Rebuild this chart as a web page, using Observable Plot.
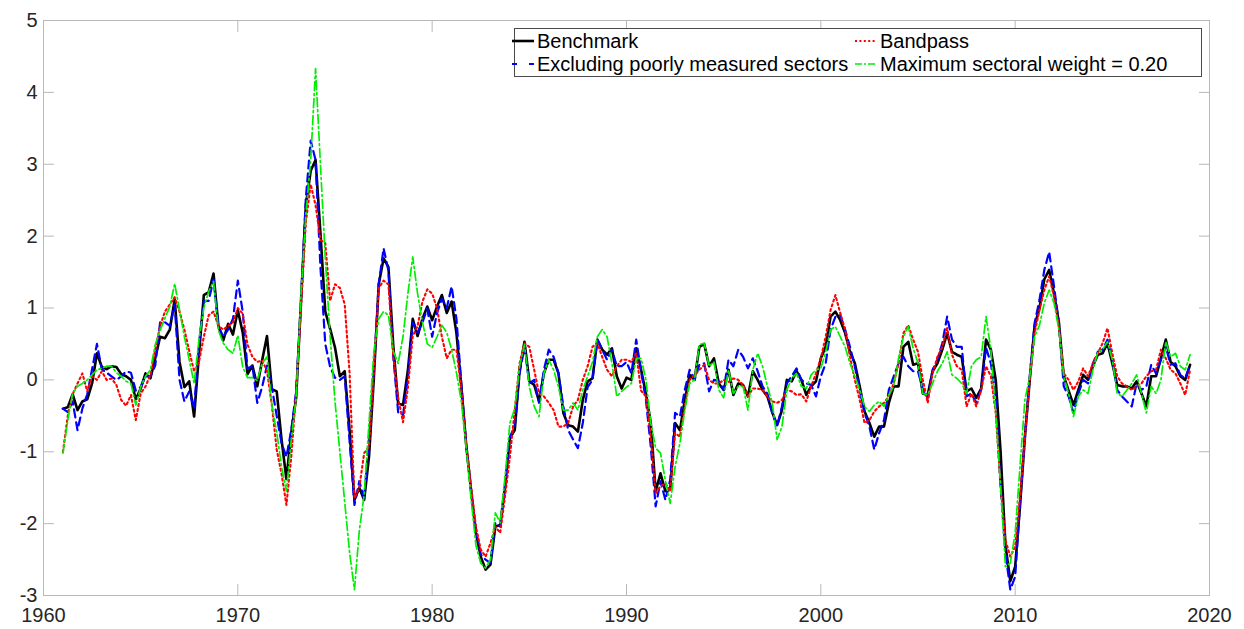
<!DOCTYPE html>
<html>
<head>
<meta charset="utf-8">
<script src="https://cdn.jsdelivr.net/npm/d3@7"></script>
<script src="https://cdn.jsdelivr.net/npm/@observablehq/plot@0.6"></script>
<style>
  html, body { margin: 0; padding: 0; background: #fff; }
  #wrap { position: relative; width: 1244px; height: 629px; font-family: "Liberation Sans", Arial, sans-serif; }
  #legend { position: absolute; left: 514px; top: 28px; width: 688px; height: 49px; border: 1px solid #4a4a4a; background: #fff; box-sizing: border-box; }
  .item { position: absolute; height: 22px; display: flex; align-items: center; font-size: 20px; color: #000; white-space: nowrap; }
  .item svg { margin-right: 2px; }
</style>
</head>
<body>
<div id="wrap"></div>
<script>
// Quarterly observations, first quarter of 1961 through first quarter of 2019
const startYear = 1961;
const benchmark = [
 -0.40,-0.38,-0.20,-0.42, -0.30,-0.27,-0.05,0.37, 0.18,0.15,0.19,0.18, 0.08,0.05,0.00,-0.27,
 -0.12,0.09,0.02,0.30, 0.60,0.58,0.70,1.12, 0.25,-0.10,-0.02,-0.51, 0.35,1.18,1.22,1.48,
 0.75,0.55,0.78,0.63, 0.97,0.66,0.08,0.20, -0.09,0.27,0.61,-0.13, -0.16,-0.83,-1.38,-0.73,
 -0.25,1.09,2.43,2.91, 3.06,2.05,0.95,0.71, 0.45,0.05,0.12,-0.70, -1.67,-1.50,-1.67,-1.07,
 0.03,1.33,1.69,1.57, 0.47,-0.33,-0.35,0.13, 0.85,0.61,0.85,1.02, 0.83,1.02,1.18,0.93,
 1.09,0.65,-0.09,-0.90, -1.53,-2.13,-2.46,-2.64, -2.57,-2.04,-2.02,-1.48, -0.81,-0.70,0.14,0.53,
 -0.02,-0.07,-0.30,0.09, 0.28,0.28,0.09,-0.46, -0.63,-0.65,-0.72,-0.28, -0.02,0.02,0.56,0.42,
 0.35,0.44,0.05,-0.12, 0.03,0.00,0.44,0.14, -0.19,-0.60,-1.55,-1.30, -1.55,-1.53,-0.60,-0.70,
 -0.28,0.07,0.00,0.46, 0.50,0.19,0.30,-0.05, -0.14,0.14,-0.21,-0.05, -0.07,-0.23,0.12,0.00,
 -0.14,-0.23,-0.45,-0.63, -0.42,0.00,-0.02,0.12, 0.00,-0.21,-0.09,-0.02, 0.30,0.46,0.88,0.95,
 0.83,0.65,0.39,0.23, -0.09,-0.44,-0.60,-0.79, -0.65,-0.65,-0.32,-0.09, -0.09,0.46,0.53,0.21,
 0.23,-0.19,-0.21,0.12, 0.23,0.42,0.65,0.39, 0.35,0.32,-0.16,-0.12, -0.25,-0.12,0.56,0.42,
 0.00,-1.00,-2.30,-2.80, -2.60,-1.75,-0.80,0.00, 0.75,1.00,1.40,1.53, 1.20,0.80,0.05,-0.15,
 -0.35,-0.14,0.07,0.00, 0.19,0.35,0.37,0.51, 0.23,-0.07,-0.09,-0.09, -0.12,-0.02,-0.19,-0.37,
 0.05,0.05,0.30,0.56, 0.25,0.19,0.05,0.00, 0.21
];
const excluding = [
 -0.40,-0.45,-0.30,-0.70, -0.40,-0.20,0.15,0.50, 0.15,0.10,0.05,0.00, 0.05,0.12,0.10,-0.15,
 -0.10,0.05,0.05,0.20, 0.80,0.80,0.75,1.05, 0.00,-0.30,-0.16,-0.40, 0.50,1.10,1.10,1.40,
 0.75,0.60,0.70,0.85, 1.38,0.95,0.15,0.20, -0.32,-0.10,0.20,-0.10, -0.50,-0.88,-1.07,-0.70,
 -0.16,1.09,2.53,3.33, 3.06,1.57,0.50,0.18, 0.03,0.00,0.05,-0.85, -1.74,-1.41,-1.65,-0.83,
 0.13,1.33,1.83,1.52, 0.32,-0.45,-0.49,0.03, 0.80,0.66,0.80,0.99, 0.60,0.93,1.13,1.00,
 1.30,0.85,-0.05,-0.90, -1.55,-2.09,-2.43,-2.50, -2.55,-1.99,-2.04,-1.48, -0.79,-0.65,0.09,0.46,
 -0.05,0.00,-0.32,0.14, 0.42,0.32,0.09,-0.37, -0.70,-0.83,-0.95,-0.60, -0.10,0.00,0.56,0.42,
 0.28,0.42,0.19,0.19, 0.25,0.09,0.56,0.12, -0.28,-0.93,-1.76,-1.41, -1.67,-1.39,-0.46,-0.51,
 -0.14,0.14,0.00,0.21, 0.23,-0.16,0.00,-0.02, -0.14,0.28,0.19,0.42, 0.32,0.16,0.30,0.12,
 -0.09,-0.19,-0.46,-0.65, -0.37,-0.05,0.05,0.16, 0.00,-0.05,-0.07,-0.23, 0.05,0.23,0.70,0.88,
 0.90,0.70,0.46,0.19, -0.14,-0.46,-0.65,-0.97, -0.74,-0.56,-0.14,0.05, 0.23,0.32,0.19,0.12,
 0.12,-0.14,-0.25,0.14, 0.28,0.51,0.88,0.56, 0.46,0.46,-0.23,-0.19, -0.32,-0.14,0.45,0.23,
 -0.23,-1.48,-2.41,-2.92, -2.74,-1.72,-0.80,0.05, 0.79,1.11,1.53,1.78, 1.30,0.79,-0.09,-0.23,
 -0.46,-0.19,0.00,-0.05, 0.23,0.39,0.42,0.56, 0.28,-0.14,-0.23,-0.30, -0.37,-0.05,-0.14,-0.09,
 0.21,0.09,0.28,0.46, 0.21,0.23,0.07,0.02, 0.21
];
const bandpass = [
 -1.00,-0.50,-0.20,-0.05, 0.09,-0.16,0.05,0.00, 0.12,0.00,0.02,-0.07, -0.28,-0.36,-0.21,-0.56,
 -0.19,-0.09,0.07,0.42, 0.75,0.95,1.05,1.15, 0.95,0.70,0.40,0.12, 0.25,0.60,0.90,0.95,
 0.75,0.70,0.75,0.80, 1.00,0.92,0.49,0.32, 0.25,0.27,0.13,-0.35, -0.97,-1.31,-1.74,-1.07,
 -0.16,0.99,2.19,2.72, 2.43,1.95,1.90,1.10, 1.33,1.28,1.05,0.10, -1.65,-1.50,-1.02,-0.93,
 0.13,1.28,1.38,1.33, 0.32,-0.25,-0.59,-0.11, 0.61,0.75,1.09,1.26, 1.20,1.00,0.60,0.30,
 0.42,0.42,-0.14,-0.88, -1.48,-2.04,-2.36,-2.46, -2.27,-2.04,-2.13,-1.62, -1.07,-0.42,0.23,0.51,
 0.46,0.14,-0.19,-0.23, -0.32,-0.42,-0.65,-0.65, -0.60,-0.37,-0.28,0.00, 0.19,0.46,0.51,0.32,
 0.14,0.05,0.19,0.28, 0.28,0.25,0.37,-0.15, -0.23,-0.80,-1.58,-1.48, -1.44,-1.55,-0.74,-0.79,
 -0.37,0.00,0.07,0.14, 0.21,0.00,-0.05,-0.05, 0.00,-0.03,0.02,0.00, -0.07,-0.23,-0.12,-0.12,
 -0.14,-0.23,-0.30,-0.32, -0.28,-0.14,-0.16,-0.21, -0.20,-0.30,-0.09,0.09, 0.30,0.60,0.97,1.18,
 0.93,0.70,0.32,0.00, -0.28,-0.60,-0.56,-0.44, -0.37,-0.32,-0.23,-0.05, 0.23,0.65,0.76,0.56,
 0.39,0.00,-0.32,0.09, 0.32,0.46,0.72,0.35, 0.19,0.14,-0.37,-0.19, -0.37,-0.14,0.19,0.05,
 -0.46,-1.48,-2.23,-2.46, -2.32,-1.62,-0.79,0.00, 0.65,0.97,1.25,1.44, 1.16,0.74,0.09,0.00,
 -0.14,-0.02,0.16,0.05, 0.23,0.37,0.51,0.72, 0.37,0.05,-0.05,-0.09, -0.14,-0.09,-0.05,0.05,
 0.12,0.14,0.42,0.30, 0.14,0.09,-0.05,-0.21, 0.14
];
const maxWeight = [
 -1.02,-0.56,-0.19,-0.09, -0.05,0.00,0.07,0.14, 0.16,0.19,0.19,0.10, 0.05,-0.02,-0.05,-0.35,
 -0.10,0.05,0.14,0.49, 0.69,0.86,1.02,1.34, 0.97,0.60,0.28,-0.05, 0.56,1.00,1.23,1.37,
 0.69,0.51,0.42,0.37, 0.62,0.18,0.03,0.03, -0.01,0.23,0.32,-0.35, -0.73,-1.21,-1.55,-0.83,
 -0.25,1.19,2.29,3.06, 4.33,3.00,1.70,0.60, -0.30,-1.00,-1.70,-2.40, -2.92,-2.10,-1.60,-0.60,
 0.40,0.85,0.95,0.90, 0.40,0.23,0.60,1.20, 1.71,1.20,0.80,0.50, 0.45,0.60,0.76,0.66,
 0.42,0.10,-0.30,-0.95, -1.65,-2.30,-2.55,-2.62, -2.50,-1.85,-1.99,-1.35, -0.60,-0.40,0.20,0.49,
 -0.10,-0.37,-0.51,0.09, 0.28,0.14,-0.10,-0.42, -0.42,-0.32,-0.42,-0.14, 0.05,0.25,0.60,0.70,
 0.60,0.23,-0.23,-0.16, -0.10,-0.05,0.30,0.30, 0.00,-0.60,-0.95,-1.02, -1.40,-1.72,-1.21,-0.88,
 -0.42,-0.05,0.00,0.49, 0.51,0.19,0.25,-0.14, -0.25,0.14,-0.19,-0.09, -0.09,-0.42,0.14,0.37,
 0.19,-0.09,-0.32,-0.83, -0.65,-0.14,0.02,0.09, -0.09,-0.12,0.07,0.14, 0.16,0.39,0.70,0.74,
 0.60,0.46,0.23,0.05, -0.14,-0.37,-0.44,-0.35, -0.30,-0.37,-0.21,-0.09, 0.30,0.60,0.74,0.44,
 0.23,-0.19,-0.21,-0.05, 0.12,0.23,0.39,0.07, 0.02,-0.05,-0.19,0.19, 0.28,0.32,0.88,0.42,
 -0.46,-1.48,-2.60,-2.55, -2.13,-1.20,-0.28,0.05, 0.60,0.76,1.07,1.25, 1.07,0.70,0.05,-0.19,
 -0.51,-0.23,-0.14,-0.19, 0.14,0.39,0.42,0.53, 0.28,-0.19,-0.23,-0.14, -0.05,0.07,-0.19,-0.46,
 -0.09,-0.19,0.00,0.53, 0.32,0.37,0.19,0.14, 0.35
];
const seriesNames = ["Benchmark", "Excluding poorly measured sectors", "Bandpass", "Maximum sectoral weight = 0.20"];
const xTicks = [1960, 1970, 1980, 1990, 2000, 2010, 2020];
const yTicks = [-3, -2, -1, 0, 1, 2, 3, 4, 5];

const toRows = (vals) => vals.map((v, i) => ({date: startYear + i / 4, value: v}));
const rowsB = toRows(benchmark), rowsE = toRows(excluding), rowsP = toRows(bandpass), rowsM = toRows(maxWeight);

const axisGrey = "#b8b8b8";
const labelColor = "#262626";
const fmt = d => String(d);
const tk = 11; // inward tick length

const chart = Plot.plot({
  width: 1244,
  height: 629,
  marginLeft: 43,
  marginRight: 35,
  marginTop: 20,
  marginBottom: 34,
  style: {fontFamily: "'Liberation Sans', Arial, sans-serif", fontSize: "20px", background: "#fff", overflow: "visible"},
  x: {domain: [1960, 2020]},
  y: {domain: [-3, 5]},
  marks: [
    Plot.line(rowsB, {x: "date", y: "value", stroke: "#000", strokeWidth: 2.6}),
    Plot.line(rowsE, {x: "date", y: "value", stroke: "#0000ff", strokeWidth: 2.2, strokeDasharray: "8,5"}),
    Plot.line(rowsP, {x: "date", y: "value", stroke: "#ff0000", strokeWidth: 2.1, strokeDasharray: "2,3"}),
    Plot.line(rowsM, {x: "date", y: "value", stroke: "#00ee00", strokeWidth: 1.7, strokeDasharray: "9,3,2,3"}),
    Plot.frame({stroke: axisGrey, strokeWidth: 1}),
    Plot.axisX({anchor: "bottom", ticks: xTicks, tickSize: tk, dy: -tk, tickFormat: () => "", stroke: axisGrey, label: null}),
    Plot.axisX({anchor: "top", ticks: xTicks, tickSize: tk, dy: tk, tickFormat: () => "", stroke: axisGrey, label: null}),
    Plot.axisY({anchor: "left", ticks: yTicks, tickSize: tk, dx: tk, tickFormat: () => "", stroke: axisGrey, label: null}),
    Plot.axisY({anchor: "right", ticks: yTicks, tickSize: tk, dx: -tk, tickFormat: () => "", stroke: axisGrey, label: null}),
    Plot.axisX({anchor: "bottom", ticks: xTicks, tickSize: 0, tickPadding: 12, tickFormat: fmt, fill: labelColor, label: null}),
    Plot.axisY({anchor: "left", ticks: yTicks, tickSize: 0, tickPadding: 6, tickFormat: fmt, fill: labelColor, label: null})
  ]
});

const wrap = document.getElementById("wrap");
wrap.appendChild(chart);

// Legend (inside the axes, top right)
const legend = document.createElement("div");
legend.id = "legend";
const entries = [
  {name: seriesNames[0], stroke: "#000", width: 2.6, dash: null, left: -4, top: 1},
  {name: seriesNames[2], stroke: "#ff0000", width: 2.1, dash: "2,2.4", left: 339, top: 1},
  {name: seriesNames[1], stroke: "#0000ff", width: 2.2, dash: "5,12", left: -4, top: 24},
  {name: seriesNames[3], stroke: "#00ee00", width: 1.7, dash: "7,2,2,2", left: 339, top: 24}
];
for (const e of entries) {
  const item = document.createElement("div");
  item.className = "item";
  item.style.left = e.left + "px";
  item.style.top = e.top + "px";
  item.innerHTML = `<svg width="24" height="10"><line x1="1" y1="5" x2="23" y2="5" stroke="${e.stroke}" stroke-width="${e.width}" ${e.dash ? `stroke-dasharray="${e.dash}"` : ""}/></svg><span>${e.name}</span>`;
  legend.appendChild(item);
}
wrap.appendChild(legend);
</script>
</body>
</html>
